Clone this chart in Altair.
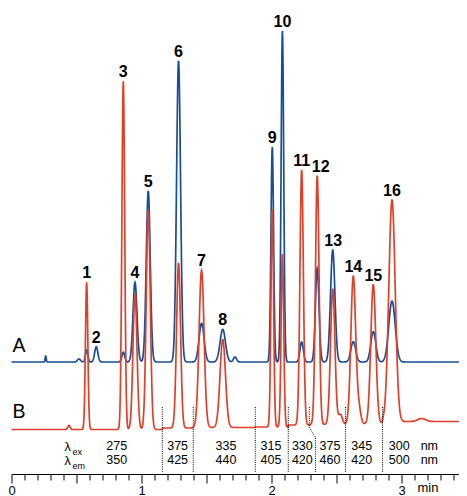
import altair as alt
import numpy as np
import pandas as pd

# ---------------- data ----------------
peak_no = [str(i) for i in range(1, 17)]
peak_time = [0.578, 0.652, 0.860, 0.950, 1.052, 1.285, 1.462, 1.625,
             2.006, 2.084, 2.232, 2.352, 2.471, 2.629, 2.783, 2.927]
label_time = [0.578, 0.652, 0.860, 0.950, 1.052, 1.285, 1.462, 1.625,
              2.006, 2.084, 2.232, 2.378, 2.475, 2.629, 2.783, 2.927]
height_A = [12, 15.3, 9.7, 79.7, 171, 301, 38.7, 32.7,
            215, 331.3, 20, 93.7, 112, 20.3, 30.3, 61]
height_B = [147.3, 0, 348.3, 135.7, 219, 164.7, 157.3, 88,
            217.7, 173, 255.3, 249, 135.3, 147.7, 139.3, 221.7]
peak_sigma = [0.0092, 0.0123, 0.0108, 0.0154, 0.0154, 0.0154, 0.0192, 0.0208,
              0.0100, 0.0100, 0.0131, 0.0138, 0.0169, 0.0185, 0.0192, 0.0246]

minor_A_time = [0.263, 0.519, 1.719]
minor_A_height = [6, 3, 5]
minor_A_sigma = [0.004, 0.012, 0.012]

minor_B_time = [0.442, 2.530, 2.672, 3.155]
minor_B_height = [4, 10, 15, 3]
minor_B_sigma = [0.009, 0.015, 0.015, 0.030]

baseline_A = 112
switch_time = [1.160, 1.398, 1.875, 2.129, 2.300, 2.569, 2.854]
baseline_B = [44.5, 46, 46.5, 47, 49, 49.5, 50, 52.5]

lam_time = [0.809, 1.278, 1.650, 1.996, 2.237, 2.450, 2.694, 2.983, 3.214]
lam_ex = ["275", "375", "335", "315", "330", "375", "345", "300", "nm"]
lam_em = ["350", "425", "440", "405", "420", "460", "420", "500", "nm"]

dogleg_time = [2.291, 2.291, 2.338, 2.338]
dogleg_y = [67, 46, 37, 1.3]

tick_values = [round(i * 0.1, 1) for i in range(35)]

BLUE = "#1a4e94"
RED = "#e0402a"
FONT = "Liberation Sans"

# ---------------- traces ----------------
T_MAX = 447.5 / 130.0
t = np.arange(0, T_MAX + 0.0001, 0.002)


def trace(base, times, heights, sigmas, extra_t, extra_h, extra_s):
    y = np.array(base, dtype=float)
    for c, h, s in zip(list(times) + list(extra_t), list(heights) + list(extra_h),
                       list(sigmas) + list(extra_s)):
        y = y + h * np.exp(-0.5 * ((t - c) / s) ** 2)
    return y


baseB_arr = np.array([baseline_B[np.searchsorted(switch_time, v)] for v in t])
yA = trace(np.full_like(t, baseline_A), peak_time, height_A, peak_sigma,
           minor_A_time, minor_A_height, minor_A_sigma)
yB = trace(baseB_arr, peak_time, height_B, peak_sigma,
           minor_B_time, minor_B_height, minor_B_sigma)

dfA = pd.DataFrame({"t": t, "y": yA})
dfB = pd.DataFrame({"t": t, "y": yB})

base_at_peak = [baseline_B[np.searchsorted(switch_time, v)] for v in peak_time]
label_y = [max(baseline_A + a, bb + b) for a, b, bb in zip(height_A, height_B, base_at_peak)]
df_lab = pd.DataFrame({"t": label_time, "y": label_y, "n": peak_no})

df_sw = pd.DataFrame({"t": [v for v in switch_time if v != 2.300], "y": 67, "y2": 1.3})
df_dog = pd.DataFrame({"t": dogleg_time, "y": dogleg_y, "o": range(4)})
df_lam = pd.DataFrame({"t": lam_time, "ex": lam_ex, "em": lam_em})

# ---------------- encodings ----------------
xscale = alt.Scale(domain=[0, T_MAX], nice=False, zero=False)
yscale = alt.Scale(domain=[0, 466], nice=False, zero=False)

xaxis = alt.Axis(
    values=tick_values,
    tickSize={"condition": {"test": "abs(datum.value*2 - round(datum.value*2)) < 0.001",
                            "value": 9}, "value": 6},
    labelExpr="abs(datum.value - 3.2) < 0.001 ? 'min' : "
              "(abs(datum.value - round(datum.value)) < 0.001 ? format(datum.value, 'd') : '')",
    domainColor="black", tickColor="black", domainWidth=1, tickWidth=1,
    labelColor="black", labelFont=FONT, labelFontSize=13, labelPadding=1,
    labelFlush=False, labelOverlap=False, grid=False, title=None,
)


def X(field="t:Q"):
    return alt.X(field, scale=xscale, axis=xaxis)


def Y(field="y:Q"):
    return alt.Y(field, scale=yscale, axis=None)


lineA = alt.Chart(dfA).mark_line(color=BLUE, strokeWidth=1.7).encode(x=X(), y=Y())
lineB = alt.Chart(dfB).mark_line(color=RED, strokeWidth=1.7).encode(x=X(), y=Y())

labels = alt.Chart(df_lab).mark_text(
    font=FONT, fontSize=16, fontWeight="bold", color="black",
    baseline="alphabetic", dy=-4
).encode(x=X(), y=Y(), text="n:N")

rules = alt.Chart(df_sw).mark_rule(color="black", strokeWidth=1, strokeDash=[1, 1.2]).encode(
    x=X(), y=Y(), y2="y2:Q")

dog = alt.Chart(df_dog).mark_line(color="black", strokeWidth=1, strokeDash=[1, 1.2]).encode(
    x=X(), y=Y(), order="o:Q")

ex_txt = alt.Chart(df_lam).mark_text(font=FONT, fontSize=12.5, color="black",
                                     baseline="alphabetic").encode(
    x=X(), y=alt.value(442.2), text="ex:N")
em_txt = alt.Chart(df_lam).mark_text(font=FONT, fontSize=12.5, color="black",
                                     baseline="alphabetic").encode(
    x=X(), y=alt.value(456.3), text="em:N")

lam_df = pd.DataFrame({"row": ["ex", "em"], "py": [443.0, 457.0], "sy": [446.5, 460.5]})
lam1 = alt.Chart(lam_df).mark_text(font=FONT, fontSize=12.5, color="black",
                                   baseline="alphabetic", align="left").encode(
    x=alt.value(53), y=alt.Y("py:Q", scale=None, axis=None), text=alt.value("λ"))
lam2 = alt.Chart(lam_df).mark_text(font=FONT, fontSize=9, color="black",
                                   baseline="alphabetic", align="left").encode(
    x=alt.value(61), y=alt.Y("sy:Q", scale=None, axis=None), text="row:N")

ab_df = pd.DataFrame({"name": ["A", "B"], "py": [344, 410]})
ab = alt.Chart(ab_df).mark_text(font=FONT, fontSize=19.5, color="black",
                                baseline="alphabetic", align="left").encode(
    x=alt.value(1), y=alt.Y("py:Q", scale=None, axis=None), text="name:N")

chart = alt.layer(lineA, lineB, rules, dog, labels, ex_txt, em_txt, lam1, lam2, ab).properties(
    width=447.5, height=466,
    autosize=alt.AutoSizeParams(type="none"),
    padding={"left": 3.5, "top": 0, "right": 0, "bottom": 22},
    background="white",
).configure_view(stroke=None)

chart.save("out.html", embed_options={"renderer": "svg", "actions": False})
